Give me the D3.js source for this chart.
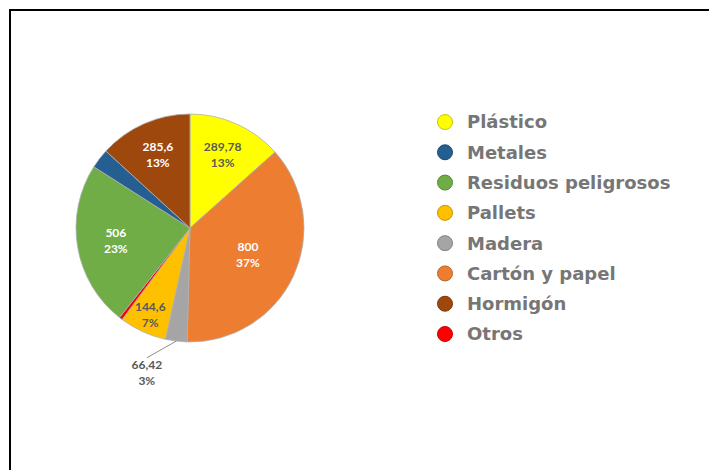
<!DOCTYPE html>
<html>
<head>
  <meta charset="utf-8">
  <title>Residuos</title>
  <script src="https://d3js.org/d3.v7.min.js"></script>
  <style>
    body { margin: 0; background: #fff; }
    text { font-family: Lato, "Open Sans", sans-serif; font-weight: bold; }
    .legend text { font-family: "DejaVu Sans", sans-serif; }
  </style>
</head>
<body>
  <div id="chart"></div>

  <script>
    // slices in drawing order (clockwise from 12 o'clock)
    var categories = ["Plástico", "Cartón y papel", "Madera", "Pallets", "Otros", "Residuos peligrosos", "Metales", "Hormigón"];
    var values = [289.78, 800, 66.42, 144.6, 10, 506, 60, 285.6];
    var colors = ["#ffff00", "#ed7d31", "#a5a5a5", "#ffc000", "#ff0000", "#70ad47", "#255e91", "#9e480e"];
    var labelColors = ["#595959", "#ffffff", "#595959", "#595959", null, "#ffffff", null, "#ffffff"];
    // legend order
    var legendOrder = ["Plástico", "Metales", "Residuos peligrosos", "Pallets", "Madera", "Cartón y papel", "Hormigón", "Otros"];

    var width = 709, height = 470;
    var cx = 190, cy = 228, radius = 114;

    var svg = d3.select("#chart").append("svg")
      .attr("width", width)
      .attr("height", height);

    // frame
    svg.append("rect")
      .attr("x", 10).attr("y", 10)
      .attr("width", 740).attr("height", 500)
      .attr("fill", "none")
      .attr("stroke", "#000")
      .attr("stroke-width", 2);

    var data = categories.map(function(c, i) {
      return {name: c, value: values[i], color: colors[i], label: labelColors[i]};
    });
    var total = d3.sum(values);

    var pie = d3.pie().sort(null).value(function(d) { return d.value; });
    var arcs = pie(data);

    var arc = d3.arc().innerRadius(0).outerRadius(radius);

    var g = svg.append("g").attr("transform", "translate(" + cx + "," + cy + ")");

    g.selectAll("path")
      .data(arcs)
      .enter()
      .append("path")
      .attr("d", arc)
      .attr("fill", function(d) { return d.data.color; })
      .attr("stroke", "#b0b0b0")
      .attr("stroke-width", 0.8);

    var fmtNum = function(v) { return String(v).replace(".", ","); };
    var fmtPct = d3.format(".0%");

    function labelRadius(share) {
      if (share > 0.3) return radius * 0.56;
      if (share > 0.2) return radius * 0.66;
      if (share > 0.1) return radius * 0.70;
      return radius * 0.84;
    }

    arcs.forEach(function(d) {
      if (!d.data.label) return;
      var share = d.data.value / total;
      var mid = (d.startAngle + d.endAngle) / 2;
      var x, y;
      if (share < 0.05) {
        // outside label with leader line
        var x0 = Math.sin(mid) * radius, y0 = -Math.cos(mid) * radius;
        var a1 = mid + 0.2, r1 = radius * 1.2;
        x = Math.sin(a1) * r1; y = -Math.cos(a1) * r1;
        g.append("line")
          .attr("x1", x0).attr("y1", y0)
          .attr("x2", x).attr("y2", y)
          .attr("stroke", "#8c8c8c")
          .attr("stroke-width", 1);
        y += 15;
      } else {
        var r = labelRadius(share);
        x = Math.sin(mid) * r; y = -Math.cos(mid) * r;
      }
      var t = g.append("text")
        .attr("text-anchor", "middle")
        .attr("font-size", 12)
        .attr("fill", d.data.label);
      t.append("tspan").attr("x", x).attr("y", y - 4).text(fmtNum(d.data.value));
      t.append("tspan").attr("x", x).attr("y", y + 12).text(fmtPct(share));
    });

    // legend
    var y = d3.scalePoint().domain(legendOrder).range([122, 334]);
    var colorOf = d3.scaleOrdinal().domain(categories).range(colors);

    var legend = svg.append("g").attr("class", "legend");
    var item = legend.selectAll("g")
      .data(legendOrder)
      .enter()
      .append("g")
      .attr("transform", function(d) { return "translate(445," + y(d) + ")"; });

    item.append("circle")
      .attr("r", 7.5)
      .attr("fill", function(d) { return colorOf(d); })
      .attr("stroke", function(d) { return d3.color(colorOf(d)).darker(0.7); })
      .attr("stroke-width", 1);

    item.append("text")
      .attr("x", 22)
      .attr("dy", "0.36em")
      .attr("font-size", 18)
      .attr("fill", "#767676")
      .text(function(d) { return d; });
  </script>
</body>
</html>
